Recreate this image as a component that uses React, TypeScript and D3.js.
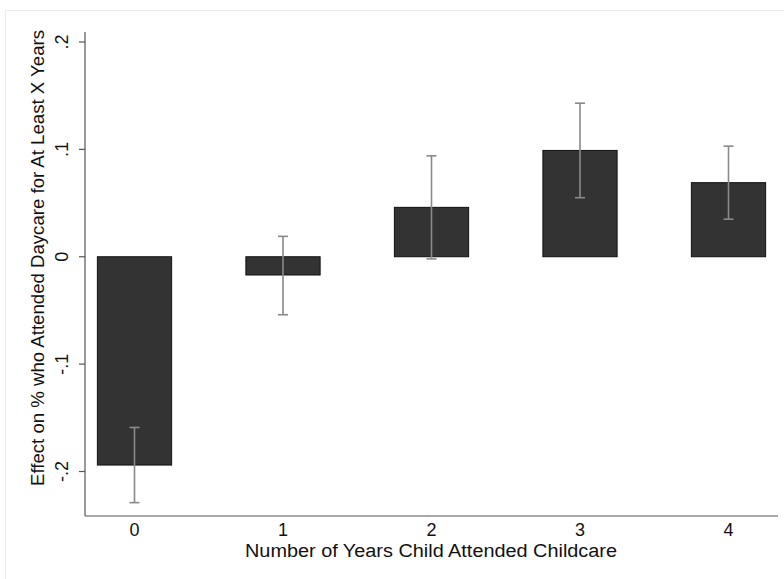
import React from "react";
import * as d3 from "d3";

const width = 784;
const height = 579;

// data
const years = [0, 1, 2, 3, 4];
const effects = [-0.194, -0.017, 0.046, 0.099, 0.069];
const ciLow = [-0.229, -0.054, -0.002, 0.055, 0.035];
const ciHigh = [-0.159, 0.019, 0.094, 0.143, 0.103];
const yTicks = [-0.2, -0.1, 0, 0.1, 0.2];
const yTickLabels = ["-.2", "-.1", "0", ".1", ".2"];

const plot = { left: 85, right: 778, top: 32, bottom: 516 };

export default function App() {
  const x = d3.scaleLinear().domain([-1 / 3, 4 + 1 / 3]).range([plot.left, plot.right]);
  const y = d3.scaleLinear().domain([-0.2, 0.2]).range([471.5, 42]);
  const barW = x(0.5) - x(0);
  const font = "'Liberation Sans', Arial, Helvetica, sans-serif";

  return (
    <div style={{ position: "fixed", left: 0, top: 0 }}>
      <svg width={width} height={height} style={{ display: "block", background: "#fff" }}>
        <rect x={5.5} y={10.5} width={900} height={700} fill="#fff" stroke="#ececec" />

        {/* bars */}
        {years.map((d, i) => (
          <rect
            key={"b" + d}
            x={x(d) - barW / 2}
            y={y(Math.max(0, effects[i]))}
            width={barW}
            height={Math.abs(y(effects[i]) - y(0))}
            fill="#333333"
            stroke="#111"
            strokeWidth={1}
          />
        ))}

        {/* error bars */}
        {years.map((d, i) => (
          <g key={"e" + d} stroke="#8a8a8a" strokeWidth={1.6}>
            <line x1={x(d)} x2={x(d)} y1={y(ciLow[i])} y2={y(ciHigh[i])} />
            <line x1={x(d) - 5} x2={x(d) + 5} y1={y(ciLow[i])} y2={y(ciLow[i])} />
            <line x1={x(d) - 5} x2={x(d) + 5} y1={y(ciHigh[i])} y2={y(ciHigh[i])} />
          </g>
        ))}

        {/* axes */}
        <g stroke="#555" strokeWidth={1.2}>
          <line x1={plot.left} x2={plot.left} y1={plot.top} y2={plot.bottom} />
          <line x1={plot.left} x2={plot.right} y1={plot.bottom} y2={plot.bottom} />
          {yTicks.map((t) => (
            <line key={"t" + t} x1={plot.left - 6} x2={plot.left} y1={y(t)} y2={y(t)} />
          ))}
        </g>

        {yTicks.map((t, i) => (
          <text
            key={"l" + t}
            transform={`translate(68,${y(t)}) rotate(-90)`}
            textAnchor="middle"
            fontFamily={font}
            fontSize={18}
            fill="#111"
          >
            {yTickLabels[i]}
          </text>
        ))}

        {years.map((d) => (
          <text key={"x" + d} x={x(d)} y={536} textAnchor="middle" fontFamily={font} fontSize={18} fill="#111">
            {d}
          </text>
        ))}

        <text
          x={431}
          y={557}
          textAnchor="middle"
          fontFamily={font}
          fontSize={18}
          fill="#111"
          textLength={372}
          lengthAdjust="spacingAndGlyphs"
        >
          Number of Years Child Attended Childcare
        </text>
        <text
          transform={`translate(44,258) rotate(-90)`}
          textAnchor="middle"
          fontFamily={font}
          fontSize={18}
          fill="#111"
          textLength={456}
          lengthAdjust="spacingAndGlyphs"
        >
          Effect on % who Attended Daycare for At Least X Years
        </text>
      </svg>
    </div>
  );
}
